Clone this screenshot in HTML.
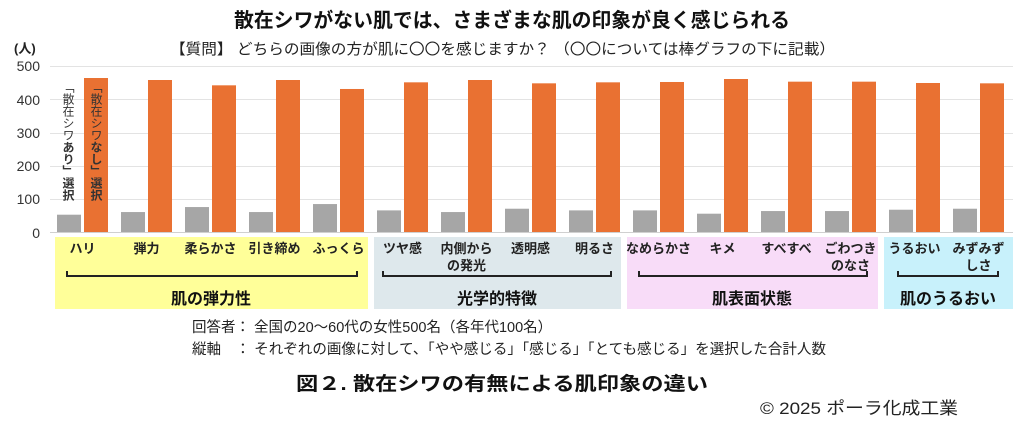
<!DOCTYPE html>
<html><head><meta charset="utf-8"><style>
html,body{margin:0;padding:0;background:#fff;}
svg{display:block;font-family:"Liberation Sans","Noto Sans CJK JP",sans-serif;}
</style></head><body>
<svg width="1024" height="429" viewBox="0 0 1024 429" xmlns="http://www.w3.org/2000/svg">
<text x="512" y="27" text-anchor="middle" font-size="20" font-weight="bold" fill="#111" textLength="556" lengthAdjust="spacingAndGlyphs">散在シワがない肌では、さまざまな肌の印象が良く感じられる</text>
<text x="170" y="54" font-size="15" fill="#222" textLength="665" lengthAdjust="spacingAndGlyphs">【質問】 どちらの画像の方が肌に〇〇を感じますか？ （〇〇については棒グラフの下に記載）</text>
<text x="14" y="53" font-size="13" font-weight="bold" fill="#222">(人)</text>
<g stroke="#e3e3e3" stroke-width="1">
<line x1="50" y1="66.5" x2="1013" y2="66.5"/><line x1="50" y1="99.5" x2="1013" y2="99.5"/>
<line x1="50" y1="133.5" x2="1013" y2="133.5"/><line x1="50" y1="166.5" x2="1013" y2="166.5"/>
<line x1="50" y1="199.5" x2="1013" y2="199.5"/>
</g>
<line x1="50" y1="232.5" x2="1013" y2="232.5" stroke="#d0d0d0"/>
<g font-size="14" fill="#333" text-anchor="end">
<text x="40" y="71">500</text><text x="40" y="105">400</text><text x="40" y="138">300</text>
<text x="40" y="171">200</text><text x="40" y="204">100</text><text x="40" y="238">0</text>
</g>
<g id="bars"></g>
<g font-size="12" fill="#333" writing-mode="tb" >
<text x="68" y="81">「散在シワ<tspan font-weight="bold">あり」選択</tspan></text>
<text x="96" y="81">「散在シワ<tspan font-weight="bold">なし」選択</tspan></text>
</g>
<rect x="55" y="237" width="313" height="72" fill="#FFFF99"/>
<rect x="374" y="237" width="247" height="72" fill="#DEE8EC"/>
<rect x="627" y="237" width="251" height="72" fill="#F8DCF8"/>
<rect x="884" y="237" width="129" height="72" fill="#C8F1FB"/>
<g fill="none" stroke="#222" stroke-width="2">
<path d="M67 271v5h290v-5"/><path d="M383 271v5h228v-5"/><path d="M639 271v5h228v-5"/><path d="M898 271v5h100v-5"/>
</g>
<g font-size="13" font-weight="bold" fill="#222" text-anchor="middle" id="labels"></g>
<g font-size="16" font-weight="bold" fill="#111" text-anchor="middle">
<text x="211" y="304">肌の弾力性</text><text x="497" y="304">光学的特徴</text>
<text x="752" y="304">肌表面状態</text><text x="948" y="304">肌のうるおい</text>
</g>
<text x="192" y="332" font-size="14.5" fill="#222">回答者： 全国の20～60代の女性500名（各年代100名）</text>
<text x="192" y="354" font-size="14.5" fill="#222" textLength="634" lengthAdjust="spacingAndGlyphs">縦軸　： それぞれの画像に対して、「やや感じる」「感じる」「とても感じる」を選択した合計人数</text>
<text x="296" y="390" font-size="19" font-weight="bold" fill="#111" textLength="412" lengthAdjust="spacingAndGlyphs">図２. 散在シワの有無による肌印象の違い</text>
<text x="760" y="414" font-size="17" fill="#222" textLength="198" lengthAdjust="spacingAndGlyphs">© 2025 ポーラ化成工業</text>
</svg>
<script>
var o=[463,457,441,457,430,450,457,447,450,451,460,452,452,448,447];
var g=[52,60,75,60,84,65,60,70,65,65,55,63,63,67,70];
var s='';
for(var i=0;i<15;i++){var x=57+64*i,ho=o[i]*0.3326,hg=g[i]*0.3326;
s+='<rect x="'+x+'" y="'+(232-hg)+'" width="24" height="'+hg+'" fill="#A6A6A6"/>';
s+='<rect x="'+(x+27)+'" y="'+(232-ho)+'" width="24" height="'+ho+'" fill="#E97132"/>';}
document.getElementById('bars').innerHTML=s;
var L=[["ハリ"],["弾力"],["柔らかさ"],["引き締め"],["ふっくら"],["ツヤ感"],["内側から","の発光"],["透明感"],["明るさ"],["なめらかさ"],["キメ"],["すべすべ"],["ごわつき","のなさ"],["うるおい"],["みずみず","しさ"]];
var t='';
for(var i=0;i<15;i++){var cx=82.5+64*i;for(var j=0;j<L[i].length;j++)t+='<text x="'+cx+'" y="'+(253+j*17)+'">'+L[i][j]+'</text>';}
document.getElementById('labels').innerHTML=t;
</script>
</body></html>
